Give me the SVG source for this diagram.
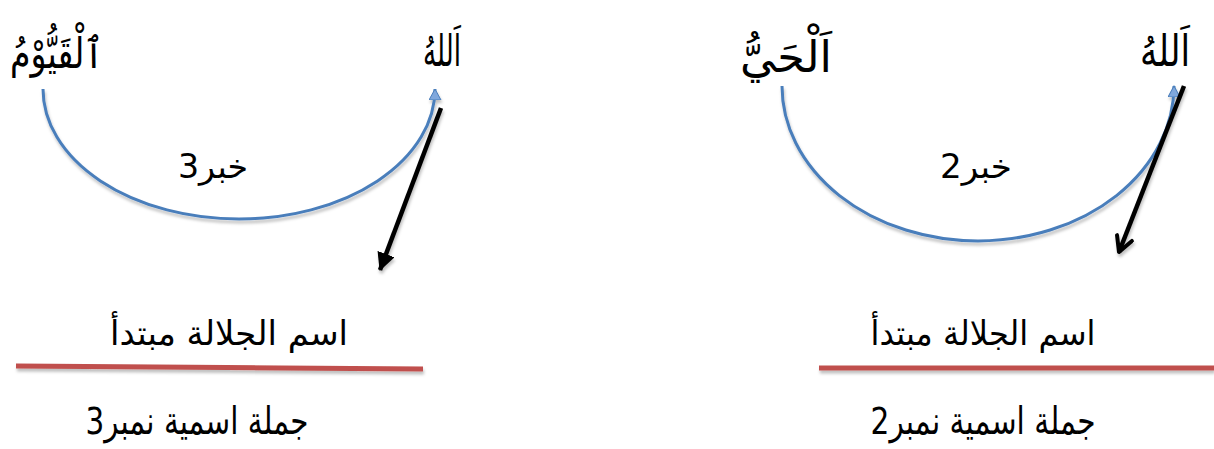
<svg xmlns="http://www.w3.org/2000/svg" width="1214" height="449" viewBox="0 0 1214 449">
<defs>
<style>
.ar{font-family:"DejaVu Sans",sans-serif;fill:#000;direction:rtl;text-anchor:middle}
.arc{fill:none;stroke:#4A7EBB;stroke-width:3}
.blk{fill:none;stroke:#000;stroke-width:4.5}
.red{stroke:#C0504D;stroke-width:5}
</style>
<filter id="sh" x="-10%" y="-10%" width="120%" height="130%">
<feDropShadow dx="1" dy="3" stdDeviation="1.5" flood-color="#000" flood-opacity="0.25"/>
</filter>
<marker id="bl" markerWidth="12" markerHeight="14" refX="11" refY="6" orient="auto" markerUnits="userSpaceOnUse">
<path d="M0,0 L11,6 L0,12 Z" fill="#7FA7DC" stroke="#4A7EBB" stroke-width="1"/>
</marker>
<marker id="bk" markerWidth="20" markerHeight="20" refX="17" refY="9" orient="auto" markerUnits="userSpaceOnUse">
<path d="M0,0 L18,9 L0,18 Z" fill="#000"/>
</marker>
<marker id="bv" markerWidth="22" markerHeight="22" refX="18" refY="10" orient="auto" markerUnits="userSpaceOnUse">
<path d="M3,2 L18,10 L3,18" fill="none" stroke="#000" stroke-width="4" stroke-linecap="round" stroke-linejoin="round"/>
</marker>
</defs>
<rect width="1214" height="449" fill="#fff"/>

<g id="left-qayyum"><text class="ar" x="57" y="68" font-size="42" textLength="94" lengthAdjust="spacingAndGlyphs">ٱلْقَيُّوْمُ</text></g>
<g id="left-allah"><text class="ar" x="442" y="66" font-size="44" textLength="38" lengthAdjust="spacingAndGlyphs">اَللهُ</text></g>
<g id="right-hayy"><text class="ar" x="786" y="72" font-size="44" textLength="92" lengthAdjust="spacingAndGlyphs">اَلْحَيُّ</text></g>
<g id="right-allah"><text class="ar" x="1165" y="66" font-size="44" textLength="50" lengthAdjust="spacingAndGlyphs">اَللهُ</text></g>

<g id="left-label"><text class="ar" x="213" y="178" font-size="33" textLength="70" lengthAdjust="spacingAndGlyphs">خبر3</text></g>
<g id="right-label"><text class="ar" x="976" y="178" font-size="33" textLength="72" lengthAdjust="spacingAndGlyphs">خبر2</text></g>

<g id="left-mubtada"><text class="ar" x="229" y="345" font-size="34" textLength="238" lengthAdjust="spacingAndGlyphs">اسم الجلالة مبتدأ</text></g>
<g id="right-mubtada"><text class="ar" x="983" y="345" font-size="34" textLength="225" lengthAdjust="spacingAndGlyphs">اسم الجلالة مبتدأ</text></g>

<g id="left-jumla"><text class="ar" x="197" y="434" font-size="38" textLength="223" lengthAdjust="spacingAndGlyphs">جملة اسمية نمبر3</text></g>
<g id="right-jumla"><text class="ar" x="983" y="434" font-size="38" textLength="225" lengthAdjust="spacingAndGlyphs">جملة اسمية نمبر2</text></g>

<g id="connectors" filter="url(#sh)">
<path class="arc" d="M43,89 A196,130 0 0 0 435,89" marker-end="url(#bl)"/>
<path class="arc" d="M782,86 A196,155 0 0 0 1174,86" marker-end="url(#bl)"/>
<line class="blk" x1="441" y1="108" x2="380" y2="270" marker-end="url(#bk)"/>
<line class="blk" x1="1184" y1="86" x2="1119" y2="252" marker-end="url(#bv)"/>
<line class="red" x1="16" y1="366" x2="423" y2="369"/>
<line class="red" x1="819" y1="368" x2="1214" y2="368"/>
</g>
</svg>
